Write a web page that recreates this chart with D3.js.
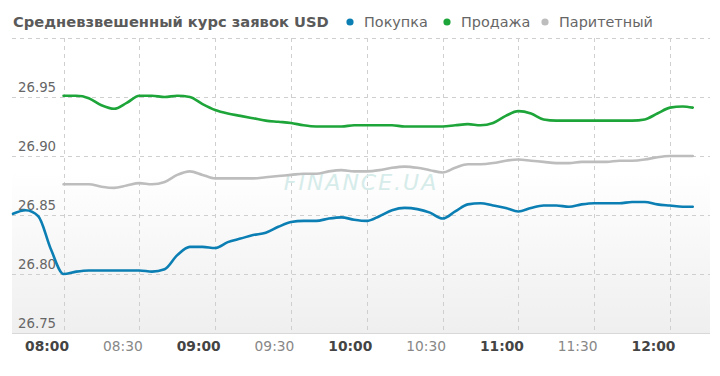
<!DOCTYPE html>
<html><head><meta charset="utf-8">
<script src="https://cdn.jsdelivr.net/npm/d3@7"></script>
<style>
html,body{margin:0;padding:0;background:#fff;}
svg{display:block;font-family:Verdana,"DejaVu Sans",sans-serif;}
</style></head>
<body>
<svg id="chart" width="720" height="376"></svg>
<script>
const title = "Средневзвешенный курс заявок USD";
const seriesNames = ["Покупка", "Продажа", "Паритетный"];
const seriesColors = ["#0b7fb3", "#1ea53a", "#bdbdbd"];
const yTicks = [26.75, 26.80, 26.85, 26.90, 26.95, 27.00];
const xTickLabels = ["08:00","08:30","09:00","09:30","10:00","10:30","11:00","11:30","12:00"];

const buyTimes = ["07:40","07:45","07:50","07:55","08:00","08:05","08:10","08:15","08:20","08:25","08:30","08:35","08:40","08:45","08:50","08:55","09:00","09:05","09:10","09:15","09:20","09:25","09:30","09:35","09:40","09:45","09:50","09:55","10:00","10:05","10:10","10:15","10:20","10:25","10:30","10:35","10:40","10:45","10:50","10:55","11:00","11:05","11:10","11:15","11:20","11:25","11:30","11:35","11:40","11:45","11:50","11:55","12:00","12:05","12:09"];
const buyValues = [26.851,26.854,26.849,26.821,26.800,26.802,26.803,26.803,26.803,26.803,26.803,26.802,26.804,26.816,26.823,26.823,26.822,26.827,26.830,26.833,26.835,26.840,26.844,26.845,26.845,26.847,26.848,26.846,26.845,26.849,26.854,26.856,26.855,26.852,26.847,26.853,26.859,26.860,26.858,26.856,26.853,26.856,26.858,26.858,26.857,26.859,26.860,26.860,26.860,26.861,26.861,26.859,26.858,26.857,26.857];

const otherTimes = ["08:00","08:05","08:10","08:15","08:20","08:25","08:30","08:35","08:40","08:45","08:50","08:55","09:00","09:05","09:10","09:15","09:20","09:25","09:30","09:35","09:40","09:45","09:50","09:55","10:00","10:05","10:10","10:15","10:20","10:25","10:30","10:35","10:40","10:45","10:50","10:55","11:00","11:05","11:10","11:15","11:20","11:25","11:30","11:35","11:40","11:45","11:50","11:55","12:00","12:05","12:09"];
const sellValues = [26.951,26.951,26.949,26.943,26.940,26.945,26.951,26.951,26.950,26.951,26.950,26.944,26.939,26.936,26.934,26.932,26.930,26.929,26.928,26.926,26.925,26.925,26.925,26.926,26.926,26.926,26.926,26.925,26.925,26.925,26.925,26.926,26.927,26.926,26.928,26.934,26.938,26.936,26.931,26.930,26.930,26.930,26.930,26.930,26.930,26.930,26.931,26.936,26.941,26.942,26.941];
const parityValues = [26.876,26.876,26.876,26.874,26.873,26.875,26.877,26.876,26.878,26.884,26.887,26.884,26.881,26.881,26.881,26.881,26.882,26.883,26.884,26.885,26.885,26.887,26.888,26.887,26.887,26.888,26.890,26.891,26.890,26.888,26.886,26.890,26.893,26.893,26.894,26.896,26.897,26.896,26.895,26.894,26.894,26.895,26.895,26.895,26.896,26.896,26.897,26.899,26.900,26.900,26.900];

const parseT = d3.timeParse("%H:%M");
const svg = d3.select("#chart");
const L = 12, R = 710, T = 38, B = 333;

const x = d3.scaleTime()
  .domain([new Date(1900,0,1,7,39,36), new Date(1900,0,1,12,15,50)])
  .range([L, R]);
const y = d3.scaleLinear().domain([26.75, 27.0]).range([B, T]);

// background gradient
const defs = svg.append("defs");
const grad = defs.append("linearGradient").attr("id","bg").attr("x1",0).attr("y1",0).attr("x2",0).attr("y2",1);
grad.append("stop").attr("offset","0%").attr("stop-color","#ffffff");
grad.append("stop").attr("offset","45%").attr("stop-color","#ffffff");
grad.append("stop").attr("offset","100%").attr("stop-color","#efefef");
svg.append("rect").attr("x",L).attr("y",T).attr("width",R-L).attr("height",B-T).attr("fill","url(#bg)");

// horizontal grid
svg.append("g").selectAll("line").data(yTicks.filter(v=>v>26.75)).join("line")
  .attr("x1",L).attr("x2",R).attr("y1",d=>Math.round(y(d))+0.5).attr("y2",d=>Math.round(y(d))+0.5)
  .attr("stroke","#cfcfcf").attr("stroke-dasharray","4,4");

// vertical grid
const xTickDates = xTickLabels.map(parseT);
svg.append("g").selectAll("line").data(xTickDates).join("line")
  .attr("x1",d=>Math.round(x(d))+0.5).attr("x2",d=>Math.round(x(d))+0.5).attr("y1",T).attr("y2",B)
  .attr("stroke","#cfcfcf").attr("stroke-dasharray","4,4");

// axis line
svg.append("line").attr("x1",L).attr("x2",R).attr("y1",B+0.5).attr("y2",B+0.5).attr("stroke","#d8d8d8");

// y labels
svg.append("g").selectAll("text").data(yTicks.filter(v=>v<27)).join("text")
  .attr("x",18).attr("y",d=>y(d)-5)
  .attr("font-size",13.3).attr("fill","#666")
  .text(d=>d.toFixed(2));

// x labels
const xAxis = d3.axisBottom(x).tickValues(xTickDates).tickFormat(d3.timeFormat("%H:%M")).tickSize(0).tickPadding(8);
const gx = svg.append("g").attr("transform",`translate(0,${B})`).call(xAxis);
gx.select(".domain").remove();
gx.selectAll("text")
  .attr("dx",-17)
  .attr("font-family","Verdana,'DejaVu Sans',sans-serif")
  .attr("font-size",13.8)
  .attr("font-weight",d=>d.getMinutes()===0?"bold":"normal")
  .attr("fill",d=>d.getMinutes()===0?"#444":"#888");

// watermark
svg.append("text").attr("x",361).attr("y",190).attr("text-anchor","middle")
  .attr("font-size",22).attr("font-style","italic").attr("letter-spacing",2)
  .attr("font-family","'DejaVu Sans',sans-serif")
  .attr("fill","#d6ecea").text("FINANCE.UA");

// lines
const line = d3.line().x(d=>x(d.t)).y(d=>y(d.v)).curve(d3.curveMonotoneX);
const series = [
  buyTimes.map((t,i)=>({t:parseT(t), v:buyValues[i]})),
  otherTimes.map((t,i)=>({t:parseT(t), v:sellValues[i]})),
  otherTimes.map((t,i)=>({t:parseT(t), v:parityValues[i]}))
];
[2,1,0].forEach(i=>{
  svg.append("path").datum(series[i]).attr("d",line)
    .attr("fill","none").attr("stroke",seriesColors[i]).attr("stroke-width",2.6)
    .attr("stroke-linejoin","round").attr("stroke-linecap","round");
});

// title
svg.append("text").attr("x",13).attr("y",27).attr("font-size",14.7).attr("font-weight","bold")
  .attr("fill","#5a5a5a").text(title);

// legend
const legX = [350, 447, 545];
const lg = svg.append("g").selectAll("g").data(seriesNames).join("g")
  .attr("transform",(d,i)=>`translate(${legX[i]},22)`);
lg.append("circle").attr("r",3.6).attr("fill",(d,i)=>seriesColors[i]);
lg.append("text").attr("x",14).attr("y",5).attr("font-size",14.4).attr("fill","#666").text(d=>d);
</script>
</body></html>
